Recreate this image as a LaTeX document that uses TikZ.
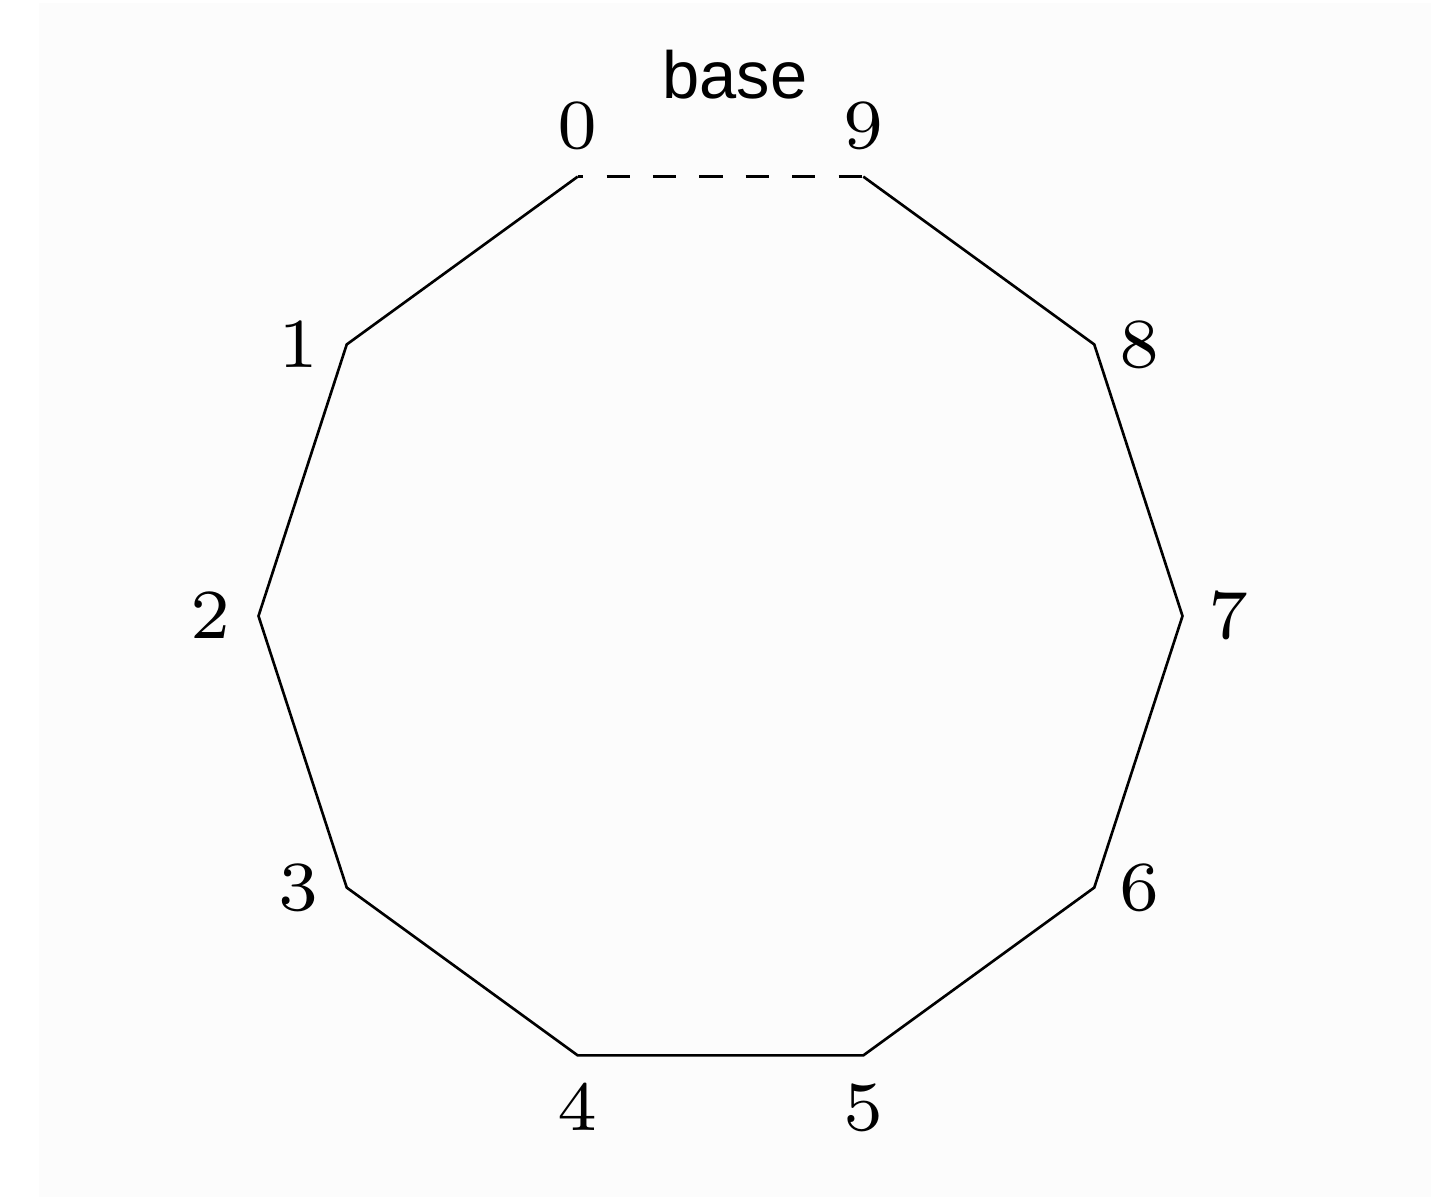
\documentclass[tikz,border=0pt]{standalone}
\usepackage{fontspec}
\usepackage{graphicx}
\usepackage{tikz}
\usetikzlibrary{positioning}
\newfontfamily\basefont{Liberation Sans}
\definecolor{paper}{HTML}{FCFCFC}
\newcommand{\vnum}[1]{\scalebox{2.86}{$#1$}}

\begin{document}
\begin{tikzpicture}[
    edge/.style={line width=0.75pt, line join=miter},
    open/.style={edge, dash pattern=on 6.6pt off 6.6pt, dash phase=5pt},
    num/.style={inner sep=0pt, font=\fontsize{7}{8}\selectfont},
    tag/.style={inner sep=0pt, font=\basefont\fontsize{19}{23}\selectfont}
]
% Rahmen
\useasboundingbox (-7.205,-5.84) rectangle (7.295,6.16);
\fill[paper] (-6.815,-5.81) rectangle (7.105,6.13);

% Ecken
\foreach \i in {0,...,9}
    \coordinate (v\i) at ({108+36*\i}:4.62);

% Nummern
\node[num, above=0.27cm of v0] (l0) {\vnum{0}};
\node[num, left=0.27cm of v1] (l1) {\vnum{1}};
\node[num, left=0.27cm of v2] (l2) {\vnum{2}};
\node[num, left=0.27cm of v3] (l3) {\vnum{3}};
\node[num, below=0.29cm of v4] (l4) {\vnum{4}};
\node[num, below=0.29cm of v5] (l5) {\vnum{5}};
\node[num, right=0.25cm of v6] (l6) {\vnum{6}};
\node[num, right=0.25cm of v7] (l7) {\vnum{7}};
\node[num, right=0.25cm of v8] (l8) {\vnum{8}};
\node[num, above=0.27cm of v9] (l9) {\vnum{9}};

\node[tag] (base) at (0.145,5.41) {base};

% Kanten
\draw[edge] (v0) -- (v1) -- (v2) -- (v3) -- (v4) -- (v5) -- (v6) -- (v7) -- (v8) -- (v9);
\draw[open] (v0) -- (v9);
\end{tikzpicture}
\end{document}
